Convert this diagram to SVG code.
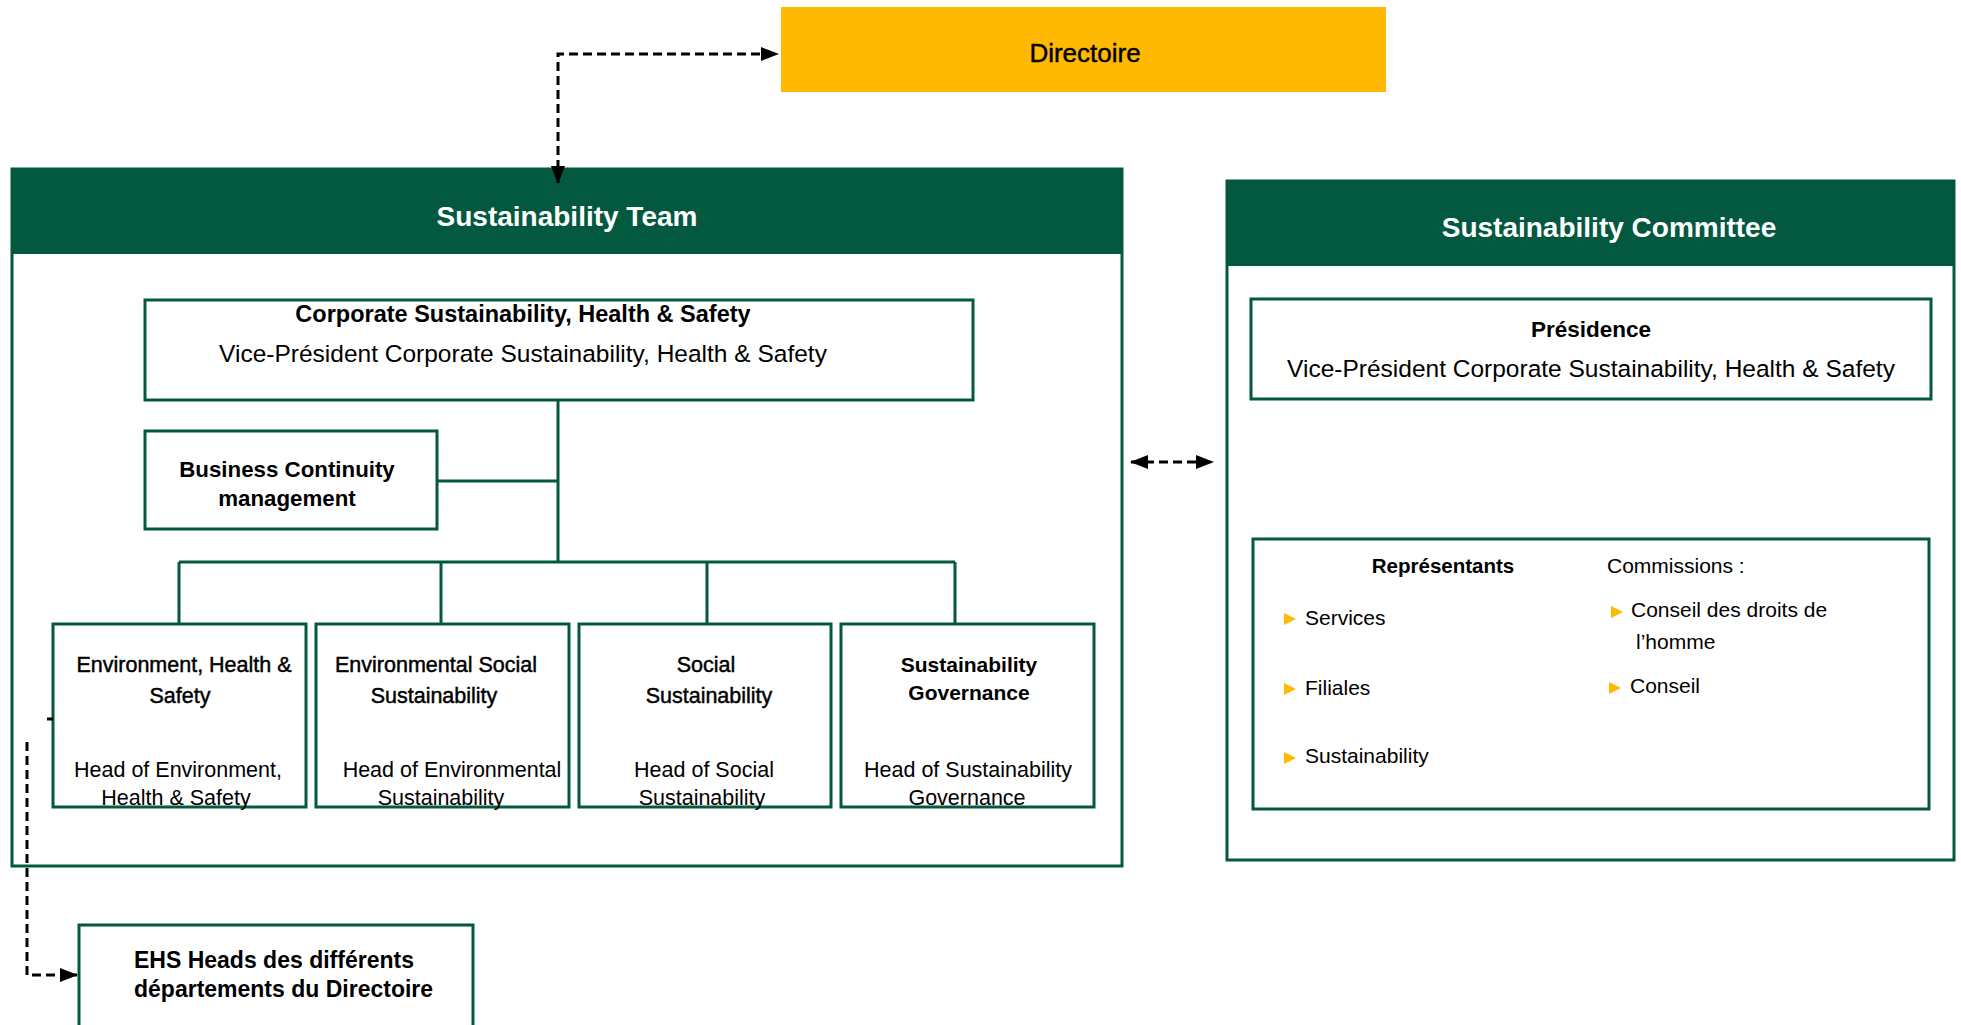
<svg xmlns="http://www.w3.org/2000/svg" width="1961" height="1025" viewBox="0 0 1961 1025">
<style>
text{font-family:"Liberation Sans",Arial,sans-serif;fill:#000}
.box{fill:#fff;stroke:#03593F;stroke-width:3}
.frame{fill:none;stroke:#03593F;stroke-width:3}
.hdr{fill:#03593F}
.ht{font-size:28px;font-weight:bold;fill:#fff;text-anchor:middle}
.b{font-weight:bold}
.m{text-anchor:middle}
.semi{stroke:#000;stroke-width:0.45px}
.r{font-size:21.5px}
.c{font-size:21px}
.tree{fill:none;stroke:#03593F;stroke-width:3}
.dash{fill:none;stroke:#000;stroke-width:3;stroke-dasharray:9 5}
.bul{fill:#FFB900}
</style>
<defs>
<marker id="ah" viewBox="0 0 18 14" refX="17" refY="7" markerWidth="18" markerHeight="14" markerUnits="userSpaceOnUse" orient="auto-start-reverse">
<path d="M0,0 L18,7 L0,14 z" fill="#000"/>
</marker>
</defs>

<g id="directoire">
<rect x="781" y="7" width="605" height="85" fill="#FFB900"/>
<text x="1085" y="62" class="m semi" font-size="26">Directoire</text>
</g>

<g id="sustainability-team">
<rect x="12" y="169" width="1110" height="697" class="frame"/>
<rect x="11" y="169" width="1111" height="85" class="hdr"/>
<text x="567" y="226" class="ht">Sustainability Team</text>
</g>

<g id="corporate">
<rect x="145" y="300" width="828" height="100" class="box"/>
<text x="523" y="322" class="m b" font-size="23.5">Corporate Sustainability, Health &amp; Safety</text>
<text x="523" y="362" class="m" font-size="24.5">Vice-Président Corporate Sustainability, Health &amp; Safety</text>
</g>

<g id="business-continuity">
<rect x="145" y="431" width="292" height="98" class="box"/>
<text x="287" y="477" class="m b" font-size="22.3">Business Continuity</text>
<text x="287" y="506" class="m b" font-size="22.3">management</text>
</g>

<g id="ehs">
<rect x="53" y="624" width="253" height="183" class="box"/>
<text x="184" y="672" class="m r semi">Environment, Health &amp;</text>
<text x="180" y="703" class="m r semi">Safety</text>
<text x="178" y="777" class="m r">Head of Environment,</text>
<text x="176" y="805" class="m r">Health &amp; Safety</text>
</g>

<g id="env-social">
<rect x="316" y="624" width="253" height="183" class="box"/>
<text x="436" y="672" class="m r semi">Environmental Social</text>
<text x="434" y="703" class="m r semi">Sustainability</text>
<text x="452" y="777" class="m r">Head of Environmental</text>
<text x="441" y="805" class="m r">Sustainability</text>
</g>

<g id="social">
<rect x="579" y="624" width="252" height="183" class="box"/>
<text x="706" y="672" class="m r semi">Social</text>
<text x="709" y="703" class="m r semi">Sustainability</text>
<text x="704" y="777" class="m r">Head of Social</text>
<text x="702" y="805" class="m r">Sustainability</text>
</g>

<g id="governance">
<rect x="841" y="624" width="253" height="183" class="box"/>
<text x="969" y="672" class="m b" font-size="21">Sustainability</text>
<text x="969" y="700" class="m b" font-size="21">Governance</text>
<text x="968" y="777" class="m r">Head of Sustainability</text>
<text x="967" y="805" class="m r">Governance</text>
</g>

<g id="ehs-heads">
<rect x="79" y="925" width="394" height="120" class="box"/>
<text x="134" y="968" class="b" font-size="23">EHS Heads des différents</text>
<text x="134" y="997" class="b" font-size="23">départements du Directoire</text>
</g>

<g id="sustainability-committee">
<rect x="1227" y="181" width="727" height="679" class="frame"/>
<rect x="1226" y="181" width="729" height="85" class="hdr"/>
<text x="1609" y="237" class="ht">Sustainability Committee</text>
</g>

<g id="presidence">
<rect x="1251" y="299" width="680" height="100" class="box"/>
<text x="1591" y="337" class="m b" font-size="22.5">Présidence</text>
<text x="1591" y="377" class="m" font-size="24.5">Vice-Président Corporate Sustainability, Health &amp; Safety</text>
</g>

<g id="representants">
<rect x="1253" y="539" width="676" height="270" class="box"/>
<text x="1443" y="573" class="m b" font-size="20.5">Représentants</text>
<text x="1607" y="573" class="c">Commissions :</text>
<path class="bul" d="M1284,613 L1296,619 L1284,625 z"/>
<text x="1305" y="625" class="c">Services</text>
<path class="bul" d="M1284,683 L1296,689 L1284,695 z"/>
<text x="1305" y="695" class="c">Filiales</text>
<path class="bul" d="M1284,752 L1296,758 L1284,764 z"/>
<text x="1305" y="763" class="c">Sustainability</text>
<path class="bul" d="M1611,606 L1623,612 L1611,618 z"/>
<text x="1631" y="617" class="c">Conseil des droits de</text>
<text x="1636" y="649" class="c">l’homme</text>
<path class="bul" d="M1609,682 L1621,688 L1609,694 z"/>
<text x="1630" y="693" class="c">Conseil</text>
</g>

<g id="connectors">
<path class="tree" d="M558,400 V562 M437,481 H558 M179,562 H955 M179,562 V624 M441,562 V624 M707,562 V624 M955,562 V624"/>
<path class="dash" d="M558,183 V54 H778" marker-start="url(#ah)" marker-end="url(#ah)"/>
<path class="dash" d="M1131,462 H1213" marker-start="url(#ah)" marker-end="url(#ah)"/>
<path class="dash" d="M27,742 V975 H77" marker-end="url(#ah)"/>
<path d="M47,719 H53" stroke="#000" stroke-width="3"/>
</g>
</svg>
